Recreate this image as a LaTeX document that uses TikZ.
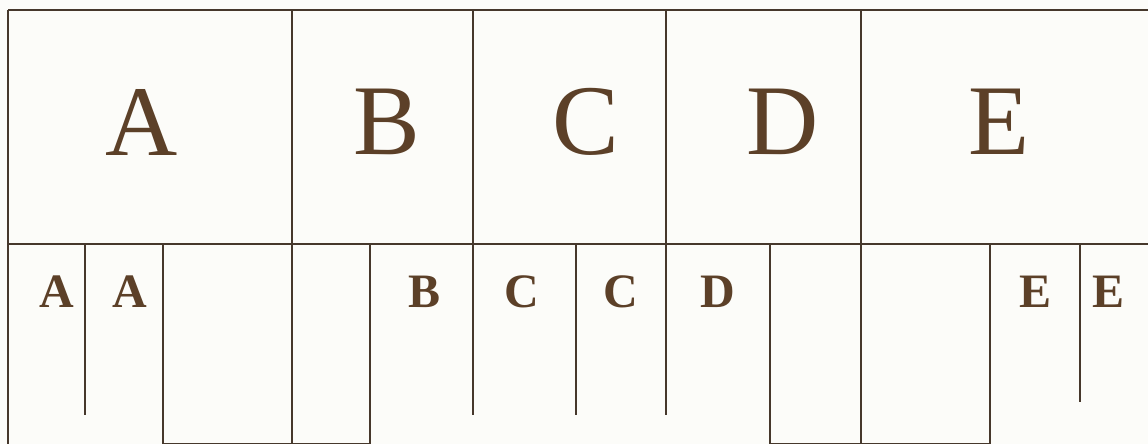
\documentclass[tikz,border=0pt]{standalone}
\usepackage{fontspec}
\setmainfont{Liberation Serif}
\definecolor{ink}{RGB}{70,56,44}
\definecolor{letter}{RGB}{92,64,40}
\definecolor{paper}{RGB}{252,252,249}
\begin{document}
\begin{tikzpicture}[x=1pt,y=-1pt,line width=1.7pt,
  rule/.style={draw=ink,line width=1.7pt},
  big/.style={inner sep=0pt,text=letter,font=\fontsize{100}{100}\selectfont},
  small/.style={inner sep=0pt,text=letter,font=\fontsize{48}{48}\selectfont\bfseries}]
\fill[paper] (0,0) rectangle (1148,444);
\useasboundingbox (0,0) rectangle (1148,444);
% horizontal rules
\draw[rule] (8,10) -- (1148,10);
\draw[rule] (8,244) -- (1148,244);
% full-height verticals
\draw[rule] (8,10) -- (8,444);
\draw[rule] (292,10) -- (292,444);
\draw[rule] (473,10) -- (473,415);
\draw[rule] (666,10) -- (666,415);
\draw[rule] (861,10) -- (861,444);
% lower-row verticals
\draw[rule] (85,244) -- (85,415);
\draw[rule] (163,244) -- (163,444);
\draw[rule] (370,244) -- (370,444);
\draw[rule] (576,244) -- (576,415);
\draw[rule] (770,244) -- (770,444);
\draw[rule] (990,244) -- (990,444);
\draw[rule] (1080,244) -- (1080,402);
% bottom edges
\draw[rule,line width=1pt] (163,443) -- (370,443);
\draw[rule,line width=1pt] (770,443) -- (990,443);
% top row letters
\node[big] (tA) at (142,122) {A};
\node[big] (tB) at (387,122) {B};
\node[big] (tC) at (586,122) {C};
\node[big] (tD) at (783,122) {D};
\node[big] (tE) at (999,122) {E};
% bottom row letters
\node[small] (bA1) at (57,291.5) {A};
\node[small] (bA2) at (130,291.5) {A};
\node[small] (bB) at (425,291.5) {B};
\node[small] (bC1) at (522,291.5) {C};
\node[small] (bC2) at (621,291.5) {C};
\node[small] (bD) at (718,291.5) {D};
\node[small] (bE1) at (1035,291.5) {E};
\node[small] (bE2) at (1108,291.5) {E};
\end{tikzpicture}
\end{document}
